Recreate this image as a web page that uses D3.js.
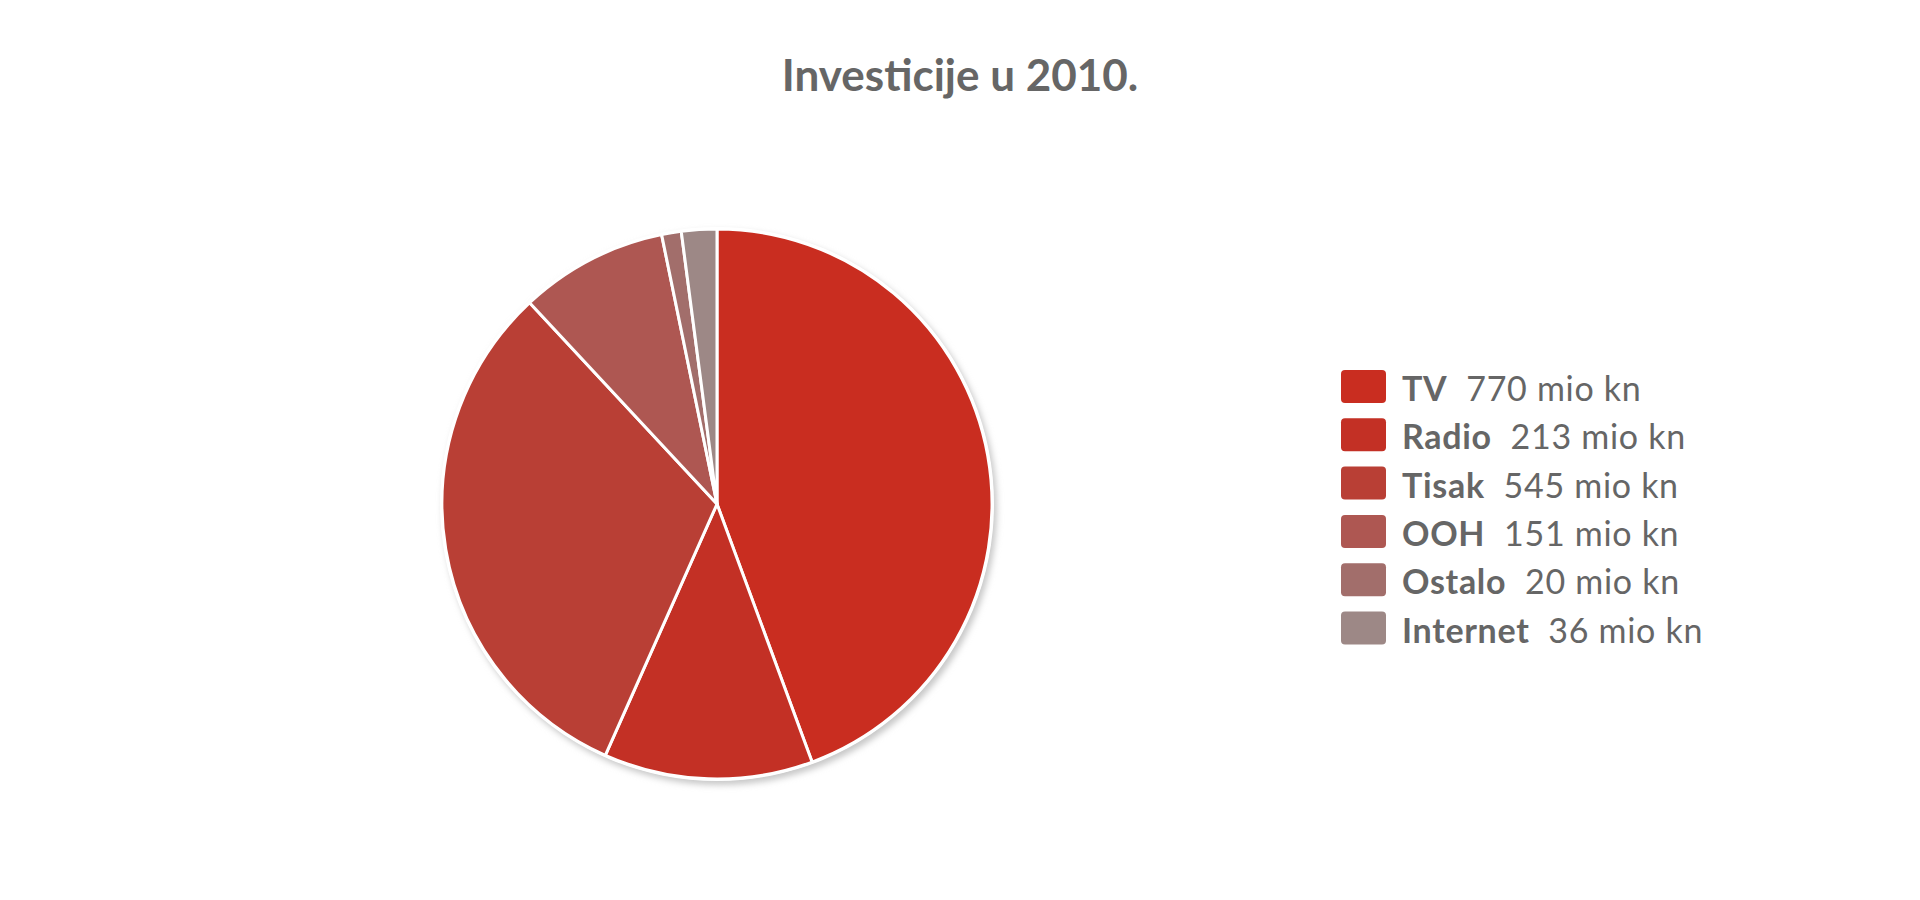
<!DOCTYPE html>
<html><head><meta charset="utf-8">
<script src="https://cdn.jsdelivr.net/npm/d3@7"></script>
<style>html,body{margin:0;padding:0;background:#fff;}</style>
</head><body>
<script>
const categories = ["TV","Radio","Tisak","OOH","Ostalo","Internet"];
const values = [770,213,545,151,20,36];
const unit = "mio kn";
const colors = ["#C92D20","#C33025","#B93F35","#AE5752","#A26E6B","#9D8886"];
const title = "Investicije u 2010.";

const W=1920,H=900;
const svg=d3.select("body").append("svg").attr("width",W).attr("height",H);
const font="Lato, 'Open Sans', sans-serif";
const textColor="#666666";

svg.append("text").attr("x",960).attr("y",91).attr("text-anchor","middle")
  .attr("font-family",font).attr("font-weight","bold").attr("font-size",44)
  .attr("fill",textColor).text(title);

const cx=717, cy=504, R=275;
const defs=svg.append("defs");
const f=defs.append("filter").attr("id","sh").attr("x","-10%").attr("y","-10%").attr("width","120%").attr("height","120%");
f.append("feGaussianBlur").attr("stdDeviation",3);

const g=svg.append("g").attr("transform",`translate(${cx},${cy})`);
g.append("circle").attr("cx",3).attr("cy",4).attr("r",R+2).attr("fill","#c8c8c8").attr("filter","url(#sh)");
g.append("circle").attr("r",R+2).attr("fill","#fff");

const pie=d3.pie().sort(null).value(d=>d);
const arc=d3.arc().innerRadius(0).outerRadius(R);
g.selectAll("path.s").data(pie(values)).join("path").attr("class","s")
  .attr("d",arc).attr("fill",(d,i)=>colors[i])
  .attr("stroke","#fff").attr("stroke-width",3).attr("stroke-linejoin","round");

const lg=svg.append("g").attr("transform","translate(1341,370)");
const rowH=48.3;
const rows=lg.selectAll("g").data(categories).join("g")
  .attr("transform",(d,i)=>`translate(0,${i*rowH})`);
rows.append("rect").attr("width",45).attr("height",33).attr("rx",4)
  .attr("fill",(d,i)=>colors[i]);
const t=rows.append("text").attr("x",61).attr("y",31)
  .attr("font-family",font).attr("font-size",34).attr("letter-spacing",0.7).attr("fill",textColor);
t.append("tspan").attr("font-weight","bold").text(d=>d);
t.append("tspan").text((d,i)=>"\u00a0\u00a0"+values[i]+" "+unit);
</script>
</body></html>
